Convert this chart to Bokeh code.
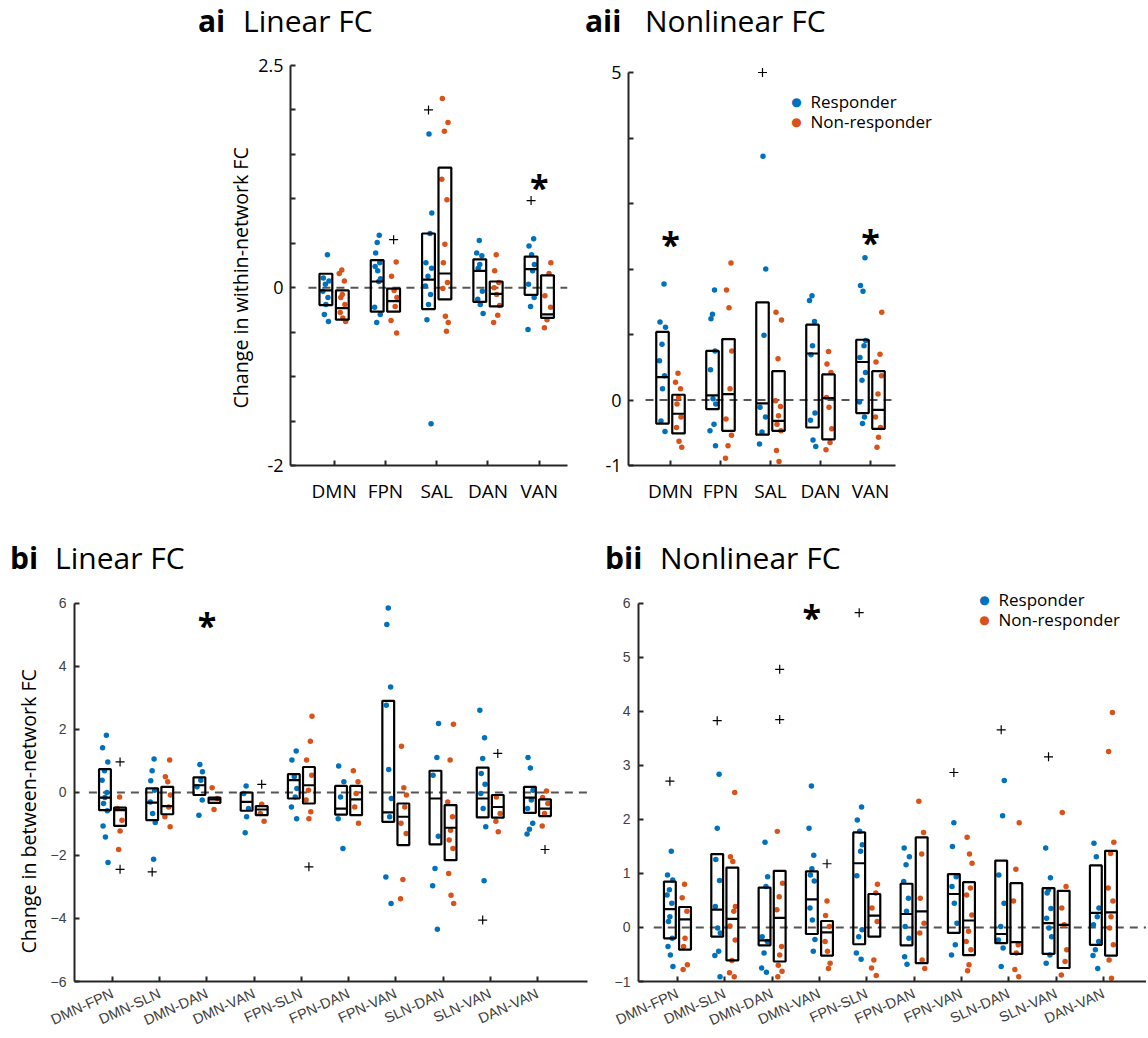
import numpy as np
from bokeh.plotting import figure
from bokeh.models import Label, Range1d, FixedTicker, Div, Title
from bokeh.layouts import row, column
from bokeh.embed import file_html
from bokeh.resources import INLINE

BLUE = "#0072BD"
ORANGE = "#D95319"

# ---------------- Panel ai: Linear FC, within-network ----------------
A_CATS = ["DMN", "FPN", "SAL", "DAN", "VAN"]
ai_resp = [
    [0.37, 0.11, 0.075, 0.04, -0.04, -0.11, -0.19, -0.30, -0.38],
    [0.59, 0.51, 0.39, 0.28, 0.24, 0.19, 0.10, 0.07, -0.22, -0.30, -0.39],
    [1.73, 0.84, 0.61, 0.28, 0.22, 0.13, 0.02, -0.075, -0.19, -0.36, -1.53],
    [0.53, 0.39, 0.36, 0.26, 0.22, -0.04, -0.13, -0.19, -0.29],
    [0.55, 0.47, 0.37, 0.26, 0.19, 0.04, -0.11, -0.21, -0.47],
]
ai_non = [
    [0.20, 0.16, 0.075, -0.075, -0.11, -0.19, -0.28, -0.34, -0.38],
    [0.29, 0.13, -0.03, -0.11, -0.21, -0.37, -0.51],
    [2.13, 1.86, 1.76, 1.22, 0.99, 0.49, 0.28, 0.06, -0.01, -0.32, -0.39, -0.49],
    [0.37, 0.19, 0.06, 0.0, -0.075, -0.20, -0.31, -0.39],
    [0.28, 0.16, -0.09, -0.22, -0.36, -0.45],
]
ai_resp_q1 = [-0.195, -0.27, -0.24, -0.16, -0.08]
ai_resp_med = [-0.03, 0.07, 0.09, 0.19, 0.21]
ai_resp_q3 = [0.157, 0.31, 0.61, 0.32, 0.35]
ai_non_q1 = [-0.36, -0.27, -0.13, -0.21, -0.34]
ai_non_med = [-0.23, -0.15, 0.16, -0.07, -0.30]
ai_non_q3 = [-0.03, -0.01, 1.35, 0.07, 0.14]
ai_resp_out = [[], [], [2.0], [], [0.98]]
ai_non_out = [[], [0.54], [], [], []]
ai_star = [(5, 1.13)]

# ---------------- Panel aii: Nonlinear FC, within-network ----------------
aii_resp = [
    [1.77, 1.19, 1.11, 0.85, 0.60, 0.37, 0.17, -0.32, -0.48],
    [1.68, 1.31, 1.24, 0.75, 0.46, 0.02, -0.06, -0.37, -0.47, -0.70],
    [3.72, 2.0, 0.99, -0.11, -0.26, -0.49, -0.67],
    [1.59, 1.52, 1.20, 0.83, 0.69, -0.20, -0.31, -0.61, -0.71],
    [2.17, 1.75, 1.66, 0.91, 0.83, 0.65, 0.42, 0.30, -0.03, -0.26, -0.36],
]
aii_non = [
    [0.41, 0.27, 0.17, 0.04, -0.06, -0.26, -0.42, -0.63, -0.72],
    [2.09, 1.68, 1.41, 0.75, 0.17, -0.29, -0.54, -0.70, -0.89],
    [1.34, 1.22, 0.63, -0.01, -0.10, -0.24, -0.37, -0.47, -0.77, -0.94],
    [0.74, 0.55, 0.42, 0.04, -0.11, -0.44, -0.65, -0.76],
    [1.34, 0.70, 0.58, 0.37, 0.09, -0.26, -0.42, -0.57, -0.72],
]
aii_resp_q1 = [-0.36, -0.14, -0.53, -0.42, -0.20]
aii_resp_med = [0.35, 0.07, -0.05, 0.71, 0.58]
aii_resp_q3 = [1.04, 0.75, 1.49, 1.15, 0.92]
aii_non_q1 = [-0.51, -0.47, -0.47, -0.60, -0.44]
aii_non_med = [-0.21, 0.09, -0.32, 0.03, -0.15]
aii_non_q3 = [0.08, 0.93, 0.44, 0.39, 0.44]
aii_resp_out = [[], [], [5.0], [], []]
aii_non_out = [[], [], [], [], []]
aii_star = [(1, 2.38), (5, 2.41)]

# ---------------- Panel bi: Linear FC, between-network ----------------
B_CATS = ["DMN-FPN", "DMN-SLN", "DMN-DAN", "DMN-VAN", "FPN-SLN",
          "FPN-DAN", "FPN-VAN", "SLN-DAN", "SLN-VAN", "DAN-VAN"]
bi_resp = [
    [1.82, 1.42, 0.97, 0.69, 0.39, 0.0, -0.16, -0.35, -0.58, -1.06, -1.41, -2.22],
    [1.06, 0.69, 0.37, 0.07, -0.30, -0.67, -0.95, -2.12],
    [0.89, 0.66, 0.39, 0.18, -0.24, -0.72],
    [0.21, -0.03, -0.51, -0.77, -1.28],
    [1.32, 1.03, 0.50, 0.13, -0.14, -0.46, -0.83],
    [0.84, 0.34, -0.14, -0.83, -1.78],
    [5.86, 5.33, 3.35, 2.77, 0.73, -0.19, -0.77, -2.68, -3.52],
    [2.19, 1.11, 0.55, -1.39, -2.41, -2.96, -4.34],
    [2.61, 1.74, 1.08, 0.60, 0.26, -0.03, -0.51, -1.09, -2.80],
    [1.11, 0.78, 0.07, -0.24, -0.51, -0.98, -1.17, -1.32],
]
bi_non = [
    [-0.14, -0.51, -0.88, -1.22, -1.81],
    [1.03, 0.50, 0.34, -0.08, -0.46, -0.77, -1.09],
    [0.15, -0.19, -0.54],
    [-0.37, -0.67, -0.91],
    [2.42, 1.63, 1.03, 0.55, 0.07, -0.24, -0.61, -0.83],
    [0.69, 0.34, -0.03, -0.46, -0.98],
    [1.47, 0.15, -0.08, -0.46, -0.98, -1.30, -2.76, -3.37],
    [2.17, 1.03, -0.30, -0.77, -1.20, -1.51, -1.78, -2.57, -3.26, -3.52],
    [-0.14, -0.67, -0.91, -1.25],
    [0.05, -0.16, -0.35, -0.67, -1.06],
]
bi_resp_q1 = [-0.56, -0.88, -0.08, -0.58, -0.19, -0.70, -0.93, -1.65, -0.79, -0.65]
bi_resp_med = [-0.16, -0.32, 0.23, -0.30, 0.39, -0.51, -0.63, -0.19, -0.19, -0.16]
bi_resp_q3 = [0.74, 0.13, 0.48, 0.0, 0.58, 0.21, 2.91, 0.69, 0.79, 0.18]
bi_non_q1 = [-1.06, -0.69, -0.33, -0.72, -0.35, -0.72, -1.67, -2.15, -0.80, -0.75]
bi_non_med = [-0.56, -0.43, -0.22, -0.54, 0.23, -0.22, -0.77, -1.12, -0.46, -0.51]
bi_non_q3 = [-0.48, 0.18, -0.16, -0.43, 0.81, 0.21, -0.35, -0.40, -0.08, -0.22]
bi_resp_out = [[], [-2.52], [], [], [], [], [], [], [-4.05], []]
bi_non_out = [[0.97, -2.44], [], [], [0.26], [-2.36], [], [], [], [1.24], [-1.81]]
bi_star = [(3, 5.32)]

# ---------------- Panel bii: Nonlinear FC, between-network ----------------
bii_resp = [
    [1.41, 0.97, 0.88, 0.70, 0.60, 0.45, 0.20, 0.11, -0.20, -0.35, -0.51, -0.72],
    [2.84, 1.84, 1.26, 0.87, 0.39, -0.01, -0.10, -0.44, -0.52, -0.91],
    [1.58, 0.94, 0.76, -0.17, -0.26, -0.47, -0.75, -0.83],
    [2.62, 1.84, 1.34, 1.09, 0.97, 0.86, 0.36, 0.14, -0.22, -0.44],
    [2.23, 1.99, 1.78, 1.53, 1.41, 0.96, -0.04, -0.17, -0.47, -0.59],
    [1.47, 1.31, 1.16, 0.85, 0.54, 0.30, 0.02, -0.20, -0.54, -0.68],
    [1.94, 1.50, 0.94, 0.76, 0.45, 0.08, -0.32, -0.51],
    [2.72, 2.07, 0.97, 0.45, 0.02, -0.23, -0.38, -0.72],
    [1.47, 0.92, 0.70, 0.64, 0.35, 0.17, -0.01, -0.17, -0.51, -0.66],
    [1.56, 1.31, 0.36, 0.20, 0.05, -0.26, -0.41, -0.52, -0.76],
]
bii_non = [
    [0.80, 0.55, 0.30, -0.20, -0.35, -0.69, -0.78],
    [2.50, 1.31, 1.22, 0.39, 0.30, 0.03, -0.23, -0.61, -0.84, -0.91],
    [1.78, 0.82, 0.57, 0.33, -0.35, -0.51, -0.70, -0.81, -0.91],
    [0.49, 0.22, 0.02, -0.26, -0.44, -0.66, -0.76],
    [0.80, 0.64, 0.36, 0.11, -0.60, -0.75, -0.89],
    [2.34, 1.76, 1.36, 0.54, 0.08, -0.10, -0.60, -0.76],
    [1.67, 1.36, 1.19, 0.73, 0.60, 0.23, -0.07, -0.26, -0.41, -0.69, -0.80],
    [1.94, 1.08, 0.49, -0.32, -0.47, -0.78, -0.91],
    [2.13, 0.76, 0.36, 0.05, -0.41, -0.63, -0.88],
    [3.98, 3.26, 1.58, 1.37, 0.73, 0.49, 0.20, -0.01, -0.32, -0.60, -0.94],
]
bii_resp_q1 = [-0.20, -0.17, -0.33, -0.12, -0.31, -0.33, -0.10, -0.29, -0.49, -0.32]
bii_resp_med = [0.34, 0.33, -0.24, 0.52, 1.19, 0.25, 0.62, -0.12, 0.08, 0.27]
bii_resp_q3 = [0.85, 1.36, 0.74, 1.04, 1.76, 0.81, 0.99, 1.24, 0.73, 1.15]
bii_non_q1 = [-0.41, -0.61, -0.63, -0.52, -0.17, -0.66, -0.51, -0.49, -0.75, -0.52]
bii_non_med = [0.15, 0.16, 0.18, -0.09, 0.22, 0.30, 0.13, -0.27, 0.05, 0.28]
bii_non_q3 = [0.38, 1.11, 1.05, 0.12, 0.62, 1.67, 0.84, 0.82, 0.68, 1.42]
bii_resp_out = [[2.71], [3.83], [], [], [5.83], [], [2.87], [3.66], [3.16], []]
bii_non_out = [[], [], [4.78, 3.85], [1.18], [], [], [], [], [], []]
bii_star = [(3.84, 5.75)]

LEGEND_LABELS = ["Responder", "Non-responder"]

# ---------------- helpers ----------------
JIT = [0.03, -0.05, 0.06, -0.01, -0.06, 0.04, 0.0, -0.03, 0.05, -0.04, 0.01, 0.065]
OFF = 0.16
BW = 0.25
AXC = "#262626"


def make_fig(xr, yr, xb, yb, fw, fh, bl, br, bt, bb):
    p = figure(x_range=Range1d(*xr), y_range=Range1d(*yr), frame_width=fw, frame_height=fh,
               min_border_left=bl, min_border_right=br, min_border_top=bt, min_border_bottom=bb,
               toolbar_location=None, output_backend="svg", tools="")
    p.grid.visible = False
    p.outline_line_color = None
    p.background_fill_color = "white"
    p.border_fill_color = "white"
    p.xaxis.bounds = xb
    p.yaxis.bounds = yb
    for ax in (p.xaxis[0], p.yaxis[0]):
        ax.axis_line_width = 2
        ax.axis_line_color = AXC
        ax.major_tick_line_width = 2
        ax.major_tick_line_color = AXC
        ax.major_tick_in = 5
        ax.major_tick_out = 0
        ax.minor_tick_line_color = None
    return p


def draw_groups(p, resp, non, rq1, rmed, rq3, nq1, nmed, nq3, rout, nout, xend):
    p.line([0.5, xend], [0, 0], line_color="#555555", line_width=2, line_dash="8 6")
    for sign, pts, q1, med, q3, outs, col in [
            (-1, resp, rq1, rmed, rq3, rout, BLUE), (1, non, nq1, nmed, nq3, nout, ORANGE)]:
        xs, ys = [], []
        for i, grp in enumerate(pts):
            c = i + 1 + sign * OFF
            for k, v in enumerate(grp):
                xs.append(c + JIT[(k + 5 * i + (3 if sign > 0 else 0)) % len(JIT)])
                ys.append(v)
        p.scatter(xs, ys, size=5.5, fill_color=col, line_color=None)
        centers = [i + 1 + sign * OFF for i in range(len(q1))]
        p.quad(left=[c - BW / 2 for c in centers], right=[c + BW / 2 for c in centers],
               bottom=q1, top=q3, fill_color=None, line_color="black", line_width=2.2)
        p.segment(x0=[c - BW / 2 for c in centers], x1=[c + BW / 2 for c in centers],
                  y0=med, y1=med, line_color="black", line_width=2.2)
        ox, oy = [], []
        for i, grp in enumerate(outs):
            for v in grp:
                ox.append(centers[i])
                oy.append(v)
        if ox:
            p.scatter(ox, oy, marker="cross", size=9, line_color="black", line_width=1.2)


def add_text(p, x, y, text, size, bold=False, color="black", font="Open Sans",
             align="left", baseline="alphabetic"):
    p.add_layout(Label(x=x, y=y, x_units="screen", y_units="screen", text=text,
                       text_font=font, text_font_size=f"{size}px",
                       text_font_style="bold" if bold else "normal", text_color=color,
                       text_align=align, text_baseline=baseline))


def add_stars(p, stars):
    for (x, y) in stars:
        p.add_layout(Label(x=x, y=y, text="*", text_font="Open Sans", text_font_size="34px",
                           text_font_style="bold", text_align="center", text_baseline="middle",
                           text_color="black"))


def add_legend(p, x, y):
    for j, (lab, col) in enumerate(zip(LEGEND_LABELS, [BLUE, ORANGE])):
        yy = y - 20 * j
        add_text(p, x, yy, "\u25cf", 12, color=col, font="DejaVu Sans", align="center", baseline="middle")
        add_text(p, x + 14, yy, lab, 17, baseline="middle")


def add_ylabel(p, text, offset, standoff):
    p.add_layout(Title(text=text, align="left", offset=offset, standoff=standoff,
                       text_font="Open Sans", text_font_size="19.6px", text_font_style="normal",
                       text_color="black"), "left")


def style_a(p, yticks, ylabels, cats):
    p.yaxis.ticker = FixedTicker(ticks=yticks)
    p.yaxis.major_label_overrides = {t: (str(t) if t in ylabels else "") for t in yticks}
    p.xaxis.ticker = FixedTicker(ticks=list(range(1, len(cats) + 1)))
    p.xaxis.major_label_overrides = {i + 1: c for i, c in enumerate(cats)}
    for ax in (p.xaxis[0], p.yaxis[0]):
        ax.major_label_text_font = "Open Sans"
        ax.major_label_text_color = "black"
    p.xaxis.major_label_text_font_size = "19px"
    p.yaxis.major_label_text_font_size = "18px"
    p.xaxis.major_label_standoff = 12
    p.yaxis.major_label_standoff = 7


def style_b(p, yticks, cats):
    p.yaxis.ticker = FixedTicker(ticks=yticks)
    p.xaxis.ticker = FixedTicker(ticks=list(range(1, len(cats) + 1)))
    p.xaxis.major_label_overrides = {i + 1: c for i, c in enumerate(cats)}
    for ax in (p.xaxis[0], p.yaxis[0]):
        ax.major_label_text_font = "Liberation Sans"
        ax.major_label_text_color = "#404040"
    p.xaxis.major_label_text_font_size = "14.5px"
    p.yaxis.major_label_text_font_size = "14px"
    p.xaxis.major_label_orientation = 0.43
    p.xaxis.major_label_standoff = 11
    p.yaxis.major_label_standoff = 8


def title_div(w, h, bold_txt, bold_left, txt, txt_left):
    html = (f'<div style="position:relative;width:{w}px;height:{h}px;'
            f'font-family:\'Open Sans\';font-size:30px;line-height:normal;color:black">'
            f'<span style="position:absolute;left:{bold_left}px;top:0px;font-weight:bold">{bold_txt}</span>'
            f'<span style="position:absolute;left:{txt_left}px;top:0px">{txt}</span></div>')
    return Div(text=html, width=w, height=h, margin=(0, 0, 0, 0))


# ---------------- ai ----------------
AI_XB = (0.15, 5.55)
p_ai = make_fig(AI_XB, (-2, 2.5), AI_XB, (-2, 2.5), 277, 400, 290, 8, 17, 72)
style_a(p_ai, [-2, -1.5, -1, -0.5, 0, 0.5, 1, 1.5, 2, 2.5], [2.5, 0, -2], A_CATS)
draw_groups(p_ai, ai_resp, ai_non, ai_resp_q1, ai_resp_med, ai_resp_q3,
            ai_non_q1, ai_non_med, ai_non_q3, ai_resp_out, ai_non_out, AI_XB[1])
add_stars(p_ai, ai_star)
add_ylabel(p_ai, "Change in within-network FC", 57, 3)

# ---------------- aii ----------------
AII_XB = (0.16, 5.5)
p_aii = make_fig((0.16, 10.52), (-1, 5.107), AII_XB, (-1, 5), 518, 400, 53, 0, 17, 72)
style_a(p_aii, [-1, 0, 1, 2, 3, 4, 5], [5, 0, -1], A_CATS)
draw_groups(p_aii, aii_resp, aii_non, aii_resp_q1, aii_resp_med, aii_resp_q3,
            aii_non_q1, aii_non_med, aii_non_q3, aii_resp_out, aii_non_out, AII_XB[1])
add_stars(p_aii, aii_star)
add_legend(p_aii, 168, 364)

# ---------------- bi ----------------
BI_XB = (0.195, 11.06)
p_bi = make_fig(BI_XB, (-6, 6.571), BI_XB, (-6, 6), 513, 396, 74, 13, 0, 55)
style_b(p_bi, [-6, -4, -2, 0, 2, 4, 6], B_CATS)
draw_groups(p_bi, bi_resp, bi_non, bi_resp_q1, bi_resp_med, bi_resp_q3,
            bi_non_q1, bi_non_med, bi_non_q3, bi_resp_out, bi_non_out, BI_XB[1])
add_stars(p_bi, bi_star)
add_ylabel(p_bi, "Change in between-network FC", 28, 11)

# ---------------- bii ----------------
BII_XB = (0.177, 10.91)
p_bii = make_fig(BII_XB, (-1, 6.333), BII_XB, (-1, 6), 508, 396, 38, 0, 0, 55)
style_b(p_bii, [-1, 0, 1, 2, 3, 4, 5, 6], B_CATS)
draw_groups(p_bii, bii_resp, bii_non, bii_resp_q1, bii_resp_med, bii_resp_q3,
            bii_non_q1, bii_non_med, bii_non_q3, bii_resp_out, bii_non_out, BII_XB[1])
add_stars(p_bii, bii_star)
add_legend(p_bii, 346, 382)

d_ai = title_div(575, 48, "ai", 198, "Linear FC", 243)
d_aii = title_div(571, 48, "aii", 10, "Nonlinear FC", 70)
d_bi = title_div(600, 48, "bi", 10, "Linear FC", 55)
d_bii = title_div(546, 48, "bii", 5, "Nonlinear FC", 60)

layout = column(row(d_ai, d_aii), row(p_ai, p_aii), row(d_bi, d_bii), row(p_bi, p_bii))
open("out.html", "w").write(file_html(layout, INLINE))
